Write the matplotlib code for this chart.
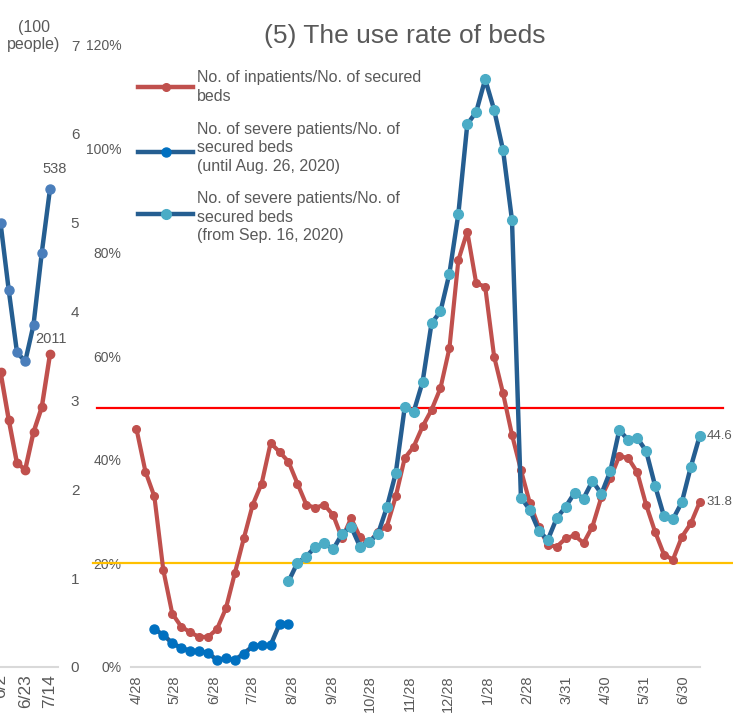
import matplotlib
matplotlib.use("Agg")
import matplotlib.pyplot as plt
import numpy as np
import pandas as pd
from matplotlib.lines import Line2D
from matplotlib.transforms import Affine2D

plt.rcParams['font.family'] = ['Liberation Sans', 'DejaVu Sans']

W, H = 733, 714
GRAY = '#595959'
RED = '#C0504D'
NAVY = '#255E91'
BLUE_MK = '#0070C0'
CYAN_MK = '#4BACC6'

# ---- right chart data (weekly, use rate in %) ----
start = pd.Timestamp('2020-04-28')
weeks = pd.date_range(start, periods=64, freq='7D')

inpatient_rate = [45.9, 37.7, 32.9, 18.7, 10.3, 7.8, 6.7, 5.8, 5.8, 7.3,
                  11.3, 18.1, 24.8, 31.3, 35.4, 43.2, 41.5, 39.6, 35.4, 31.3,
                  30.7, 31.3, 29.3, 24.8, 28.7, 25.1, 23.9, 26.1, 27.1, 32.9,
                  40.3, 42.5, 46.4, 49.6, 53.8, 61.5, 78.5, 84.0, 74.0, 73.4,
                  59.9, 52.8, 44.8, 38.0, 31.6, 27.0, 23.6, 23.2, 24.8, 25.4,
                  23.9, 27.1, 32.8, 36.4, 40.7, 40.3, 37.6, 31.3, 26.1, 21.7,
                  20.7, 25.1, 27.7, 31.8]

# severe patients, old definition (weeks 2..17)
severe_old = [7.3, 6.2, 4.6, 3.7, 3.1, 3.1, 2.7, 1.35, 1.7, 1.35,
              2.6, 4.0, 4.2, 4.2, 8.3, 8.3]
severe_old_start = 2

# severe patients, new definition (weeks 17..63)
severe_new = [16.5, 20.1, 21.3, 23.2, 23.9, 22.7, 25.7, 27.1, 23.2, 24.2,
              25.6, 30.8, 37.4, 50.1, 49.2, 55.0, 66.3, 68.6, 75.9, 87.4,
              104.7, 107.1, 113.4, 107.5, 99.7, 86.2, 32.7, 30.3, 26.3, 24.5,
              28.7, 30.9, 33.6, 32.5, 35.9, 33.4, 37.8, 45.7, 43.8, 44.2,
              41.7, 35.0, 29.1, 28.5, 31.8, 38.6, 44.6]
severe_new_start = 17

tick_dates = ['2020-04-28', '2020-05-28', '2020-06-28', '2020-07-28',
              '2020-08-28', '2020-09-28', '2020-10-28', '2020-11-28',
              '2020-12-28', '2021-01-28', '2021-02-28', '2021-03-31',
              '2021-04-30', '2021-05-31', '2021-06-30']

# ---- left (cropped) chart data, hundreds of people ----
left_dates = ['6/2', '6/9', '6/16', '6/23', '6/30', '7/7', '7/14']
left_severe = [5.0, 4.24, 3.54, 3.44, 3.85, 4.66, 5.38]
left_inpatients = [18.97, 15.9, 13.1, 12.7, 15.1, 16.7, 20.11]


def px_box(x0, y0, x1, y1):
    return [x0 / W, 1 - y1 / H, (x1 - x0) / W, (y1 - y0) / H]


fig = plt.figure(figsize=(W / 100, H / 100), dpi=100)
pix = Affine2D().scale(1 / W, -1 / H).translate(0, 1) + fig.transFigure

# ---------------- main chart ----------------
ax = fig.add_axes(px_box(131, 45, 700, 667))
ax.set_ylim(0, 120)
ax.set_xlim(start - pd.Timedelta(days=4.3), start + pd.Timedelta(days=441.2))

ax.plot(weeks, inpatient_rate, color=RED, lw=3, marker='o', ms=5.5,
        mfc=RED, mec=RED, clip_on=False, zorder=3)
old_x = weeks[severe_old_start:severe_old_start + len(severe_old)]
ax.plot(old_x, severe_old, color=NAVY, lw=3.2, marker='o', ms=6.5,
        mfc=BLUE_MK, mec=BLUE_MK, clip_on=False, zorder=4)
new_x = weeks[severe_new_start:severe_new_start + len(severe_new)]
ax.plot(new_x, severe_new, color=NAVY, lw=3.2, marker='o', ms=7,
        mfc=CYAN_MK, mec=CYAN_MK, clip_on=False, zorder=4)

ax.axhline(50, xmin=-0.06, xmax=1.04, color='#FF0000', lw=1.6, clip_on=False, zorder=2)
ax.axhline(20, xmin=-0.067, xmax=1.07, color='#FFC000', lw=1.6, clip_on=False, zorder=2)

ax.annotate('44.6', (new_x[-1], severe_new[-1]), xytext=(5, 0),
            textcoords='offset points', va='center', ha='left',
            fontsize=9.5, color=GRAY, annotation_clip=False)
ax.annotate('31.8', (weeks[-1], inpatient_rate[-1]), xytext=(5, 0),
            textcoords='offset points', va='center', ha='left',
            fontsize=9.5, color=GRAY, annotation_clip=False)

ax.set_yticks(np.arange(0, 121, 20))
ax.set_yticklabels([f'{v}%' for v in range(0, 121, 20)])
tks = pd.to_datetime(tick_dates)
ax.set_xticks(tks)
ax.set_xticklabels([f'{d.month}/{d.day}' for d in tks], rotation=90)
ax.tick_params(axis='y', length=0, pad=7, labelsize=10, labelcolor=GRAY)
ax.tick_params(axis='x', length=0, pad=6, labelsize=10.5, labelcolor=GRAY)
for s in ['top', 'right', 'left']:
    ax.spines[s].set_visible(False)
ax.spines['bottom'].set_color('#D9D9D9')
ax.spines['bottom'].set_linewidth(1.5)

fig.text(405 / W, 1 - 36 / H, '(5) The use rate of beds', ha='center',
         va='center', fontsize=19, color=GRAY)

# legend drawn by hand
legend_items = [
    ('No. of inpatients/No. of secured\nbeds', 87, 87, RED, RED, 5.5),
    ('No. of severe patients/No. of\nsecured beds\n(until Aug. 26, 2020)', 148, 152, NAVY, BLUE_MK, 6.5),
    ('No. of severe patients/No. of\nsecured beds\n(from Sep. 16, 2020)', 217, 214, NAVY, CYAN_MK, 7),
]
for label, ty, ly, lc, mc, ms in legend_items:
    fig.add_artist(Line2D([138, 193], [ly, ly], transform=pix, color=lc, lw=3.2))
    fig.add_artist(Line2D([165.5], [ly], transform=pix, marker='o', ms=ms,
                          mfc=mc, mec=mc, lw=0))
    fig.text(197, ty, label, transform=pix, ha='left', va='center',
             fontsize=11.5, color=GRAY, linespacing=1.3)

# ---------------- left cropped chart ----------------
axl = fig.add_axes(px_box(-7.75, 45, 58.25, 667))
axl2 = axl.twinx()
axl.set_xlim(-1, 7)
axl.set_ylim(0, 7)
xi = np.arange(len(left_dates))
axl.plot(xi, left_severe, color=NAVY, lw=3.2, marker='o', ms=6.5,
         mfc='#4A7EBB', mec='#4A7EBB', zorder=4)
axl.annotate('538', (xi[-1], left_severe[-1]), xytext=(3, 9),
             textcoords='offset points', ha='center', va='bottom',
             fontsize=10.5, color=GRAY, annotation_clip=False)
axl.set_yticks(range(0, 8))
axl.tick_params(axis='y', length=0, pad=9, labelsize=11, labelcolor=GRAY,
                left=False, labelleft=False, right=False, labelright=True)
axl.set_xticks([0, 3, 6])
axl.set_xticklabels([left_dates[0], left_dates[3], left_dates[6]], rotation=90)
axl.tick_params(axis='x', length=0, pad=5, labelsize=12.5, labelcolor=GRAY)
for s in ['top', 'right', 'left']:
    axl.spines[s].set_visible(False)
axl.spines['bottom'].set_color('#D9D9D9')
axl.spines['bottom'].set_linewidth(1.5)

axl2.set_ylim(0, 40)
axl2.plot(xi, left_inpatients, color=RED, lw=3.2, marker='o', ms=6,
          mfc=RED, mec=RED, zorder=3)
axl2.annotate('2011', (xi[-1], left_inpatients[-1]), xytext=(1, 6),
              textcoords='offset points', ha='center', va='bottom',
              fontsize=10.5, color=GRAY, annotation_clip=False)
axl2.set_yticks([])
for s in axl2.spines.values():
    s.set_visible(False)

fig.text(34 / W, 1 - 36 / H, '(100\npeople)', ha='center', va='center',
         fontsize=11.5, color=GRAY, linespacing=1.1)

fig.savefig('out.png', dpi=100)
